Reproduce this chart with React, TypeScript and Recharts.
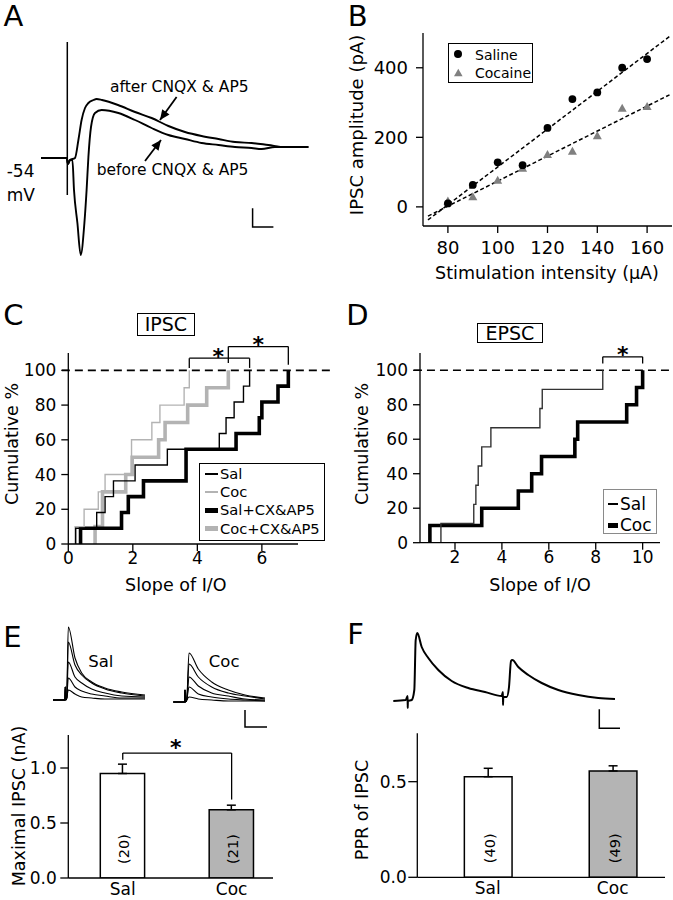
import React from 'react';
import {
  LineChart, Line, XAxis, YAxis, ScatterChart, Scatter, ReferenceLine,
  BarChart, Bar, ErrorBar, LabelList, Cell,
} from 'recharts';

const FONT = '"DejaVu Sans", "Liberation Sans", sans-serif';

// A: membrane potential, before / after CNQX & AP5 (ms, mV)
const aAfterT = [0.5, 13.4, 14, 15, 17.5, 19.2, 20.8, 22.5, 24.2, 26.7, 28.3, 31, 39, 47.5, 55.8, 64.2, 72.5, 80.8, 89.2, 97.5, 105.8, 114.2, 122.5, 134.2];
const aAfterV = [-54, -54, -54.6, -54.2, -54, -52.2, -50.2, -49.0, -48.5, -48.2, -48.1, -48.2, -48.7, -49.4, -50.0, -50.8, -51.4, -51.8, -52.1, -52.4, -52.5, -52.7, -52.9, -52.9];
const aBeforeT = [0.5, 13.4, 14, 15, 16.2, 17, 18.7, 20.35, 22.2, 23.3, 24.2, 25.5, 27.5, 30.8, 39.2, 47.5, 55.8, 64.2, 72.5, 80.8, 89.2, 97.5, 105.8, 110.8, 117.5, 134.2];
const aBeforeV = [-54, -54, -54.6, -54.2, -54.2, -57.2, -60.5, -63.7, -60.5, -57.2, -53.9, -50.9, -49.5, -49.2, -49.5, -50.2, -51.0, -51.7, -52.1, -52.5, -52.7, -52.9, -53.0, -53.1, -52.9, -52.9];
const aStim = { t: 13.65, top: -42.4, bottom: -57.7 };
const aArrowAfter = [{ t: 68.3, v: -47.9 }, { t: 60, v: -50.2 }];
const aArrowBefore = [{ t: 52.5, v: -54.3 }, { t: 60.5, v: -52.2 }];
const aScale = { t: 106.3, v: -60.9, dt: 10.4, dv: 1.87 };

// B: IPSC amplitude vs stimulation intensity
const stimIntensity = [80, 90, 100, 110, 120, 130, 140, 150, 160];
const salineAmp = [10, 63, 128, 120, 227, 310, 329, 400, 425];
const cocaineAmp = [16, 28, 76, 110, 150, 159, 204, 283, 288];

// C: slopes of I/O (IPSC)
const ipscSal = [0.23, 0.88, 1.14, 1.4, 2.07, 3.07, 4.68, 4.89, 5.14, 5.43, 5.62];
const ipscCoc = [0.21, 0.49, 0.93, 1.14, 1.96, 1.96, 2.59, 2.84, 3.59, 3.75];
const ipscSalCx = [0.38, 1.65, 1.86, 2.33, 3.65, 3.65, 5.2, 5.92, 6.0, 6.5, 6.82];
const ipscCocCx = [0.83, 1.06, 1.06, 1.78, 1.98, 2.8, 3.0, 3.7, 4.29, 4.96];

// D: slopes of I/O (EPSC)
const epscSal = [1.4, 2.8, 2.89, 2.99, 3.14, 3.53, 5.62, 5.72, 8.3];
const epscCoc = [0.93, 3.14, 4.7, 5.27, 5.69, 7.11, 7.23, 9.32, 9.74, 10.0];

// E: IPSC traces (ms, nA) and maximal IPSC
const eSalT = [0, 12, 12.3, 12.6, 13.7, 15.3, 22, 28.7, 38.7, 52, 68.7, 92];
const eSalTraces = [
  [0, 0, 0.13, 0, 0.02, 0.73, 0.42, 0.27, 0.18, 0.12, 0.08, 0.05],
  [0, 0, 0.13, 0, 0.02, 0.58, 0.35, 0.25, 0.17, 0.11, 0.07, 0.04],
  [0, 0, 0.13, 0, 0.02, 0.38, 0.23, 0.17, 0.11, 0.07, 0.04, 0.03],
  [0, 0, 0.13, 0, 0.02, 0.22, 0.13, 0.09, 0.06, 0.04, 0.02, 0.02],
  [0, 0, 0.13, 0, 0.02, 0.10, 0.06, 0.03, 0.02, 0.01, 0.01, 0.01],
];
const eCocT = [0.3, 11.7, 12, 12.3, 13.7, 16, 25.3, 38.7, 55.3, 72, 92];
const eCocTraces = [
  [0, 0, 0.12, 0, 0.02, 0.49, 0.33, 0.20, 0.12, 0.07, 0.04],
  [0, 0, 0.12, 0, 0.02, 0.38, 0.25, 0.15, 0.09, 0.06, 0.03],
  [0, 0, 0.12, 0, 0.02, 0.25, 0.16, 0.09, 0.06, 0.03, 0.02],
  [0, 0, 0.12, 0, 0.02, 0.15, 0.08, 0.05, 0.03, 0.02, 0.01],
  [0, 0, 0.12, 0, 0.02, 0.05, 0.03, 0.02, 0.01, 0.01, 0.01],
];
const eScale = { t: 72, v: -0.25, dt: 22, dv: 0.17 };
const groups = ['Sal', 'Coc'];
const maxIpscMean = [0.95, 0.62];
const maxIpscSem = [0.085, 0.042];
const maxIpscN = [20, 21];

// F: paired-pulse trace and PPR
const fT = [3.3, 15.7, 17.6, 17.7, 17.9, 21.7, 24.3, 25.7, 27.3, 31.7, 38.3, 48.3, 61.7, 78.3, 95, 111.7, 112.9, 113, 113.3, 116.7, 119, 121, 122.3, 128.3, 138.3, 151.7, 168.3, 188.3, 208.3, 225];
const fV = [0, 0.01, 0.05, -0.07, 0.0, 0.01, 0.11, 0.61, 0.68, 0.54, 0.43, 0.31, 0.2, 0.13, 0.09, 0.05, 0.09, -0.04, 0.04, 0.04, 0.14, 0.4, 0.41, 0.34, 0.26, 0.18, 0.11, 0.06, 0.03, 0.02];
const fScale = { t: 209.3, v: -0.273, dt: 20.7, dv: 0.19 };
const pprMean = [0.526, 0.556];
const pprSem = [0.044, 0.027];
const pprN = [40, 49];

const zip = (t: number[], v: number[]) => t.map((x, i) => ({ t: x, v: v[i] }));

const cdf = (vals: number[]) => {
  const s = [...vals].sort((a, b) => a - b);
  return [{ x: s[0], y: 0 }, ...s.map((v, i) => ({ x: v, y: ((i + 1) / s.length) * 100 }))];
};

const fitLine = (xs: number[], ys: number[]) => {
  const n = xs.length;
  const mx = xs.reduce((a, b) => a + b, 0) / n;
  const my = ys.reduce((a, b) => a + b, 0) / n;
  let sxy = 0;
  let sxx = 0;
  xs.forEach((x, i) => {
    sxy += (x - mx) * (ys[i] - my);
    sxx += (x - mx) * (x - mx);
  });
  const k = sxy / sxx;
  return (x: number) => my + k * (x - mx);
};

const scaleBar = (s: { t: number; v: number; dt: number; dv: number }) => [
  { t: s.t, v: s.v + s.dv },
  { t: s.t, v: s.v },
  { t: s.t + s.dt, v: s.v },
];

const arrowHead = () => {
  let start: { x: number; y: number } | null = null;
  return (p: any) => {
    if (p.index === 0) {
      start = { x: p.cx, y: p.cy };
      return <g key={`s${p.index}`} />;
    }
    const s = start ?? { x: p.cx - 1, y: p.cy };
    const a = Math.atan2(p.cy - s.y, p.cx - s.x);
    const L = 10;
    const W = 4.5;
    const bx = p.cx - L * Math.cos(a);
    const by = p.cy - L * Math.sin(a);
    const pts = [
      [p.cx, p.cy],
      [bx + W * Math.sin(a), by - W * Math.cos(a)],
      [bx - W * Math.sin(a), by + W * Math.cos(a)],
    ];
    return <polygon key={`h${p.index}`} points={pts.map((q) => q.join(',')).join(' ')} fill="#000" />;
  };
};

const Txt = ({ x, y, size, children, align = 'center', rotate = false, weight = 400 }: {
  x: number; y: number; size: number; children: React.ReactNode; align?: 'left' | 'center'; rotate?: boolean; weight?: number;
}) => (
  <div
    style={{
      position: 'absolute', left: x, top: y, fontSize: size, fontFamily: FONT, fontWeight: weight,
      lineHeight: 1, whiteSpace: 'nowrap', color: '#000',
      transform: `translate(${align === 'center' ? '-50%' : '0'}, -50%)${rotate ? ' rotate(-90deg)' : ''}`,
    }}
  >
    {children}
  </div>
);

const Place = ({ x, y, children }: { x: number; y: number; children: React.ReactNode }) => (
  <div style={{ position: 'absolute', left: x, top: y }}>{children}</div>
);

const axisStyle = { stroke: '#000', strokeWidth: 1.3 };
const tickFont = { fill: '#000', fontSize: 17, fontFamily: FONT };

const PanelA = () => (
  <LineChart width={280} height={232} margin={{ top: 0, right: 0, bottom: 0, left: 0 }}>
    <XAxis type="number" dataKey="t" domain={[0, 140]} hide allowDataOverflow />
    <YAxis type="number" domain={[-64.2, -41]} hide allowDataOverflow />
    <Line data={[{ t: aStim.t, v: aStim.top }, { t: aStim.t, v: aStim.bottom }]} dataKey="v" type="linear" stroke="#000" strokeWidth={1.5} dot={false} isAnimationActive={false} />
    <Line data={zip(aBeforeT, aBeforeV)} dataKey="v" type="monotone" stroke="#000" strokeWidth={1.9} dot={false} isAnimationActive={false} />
    <Line data={zip(aAfterT, aAfterV)} dataKey="v" type="monotone" stroke="#000" strokeWidth={1.9} dot={false} isAnimationActive={false} />
    <Line data={aArrowAfter} dataKey="v" type="linear" stroke="#000" strokeWidth={1.8} dot={arrowHead()} isAnimationActive={false} />
    <Line data={aArrowBefore} dataKey="v" type="linear" stroke="#000" strokeWidth={1.8} dot={arrowHead()} isAnimationActive={false} />
    <Line data={scaleBar(aScale)} dataKey="v" type="linear" stroke="#000" strokeWidth={1.5} dot={false} isAnimationActive={false} />
  </LineChart>
);

const PanelB = () => {
  const sal = stimIntensity.map((x, i) => ({ x, y: salineAmp[i] }));
  const coc = stimIntensity.map((x, i) => ({ x, y: cocaineAmp[i] }));
  const fs = fitLine(stimIntensity, salineAmp);
  const fc = fitLine(stimIntensity, cocaineAmp);
  const x0 = 72;
  const x1 = 169;
  return (
    <ScatterChart width={333} height={300} margin={{ top: 33, right: 1, bottom: 44, left: 23 }}>
      <XAxis type="number" dataKey="x" domain={[70, 170]} ticks={[80, 100, 120, 140, 160]} allowDataOverflow
        height={30} axisLine={axisStyle} tickLine={axisStyle} tickSize={7} tickMargin={8} tick={{ ...tickFont, fontSize: 18 }} />
      <YAxis type="number" dataKey="y" domain={[-55, 500]} ticks={[0, 200, 400]} allowDataOverflow
        width={60} axisLine={axisStyle} tickLine={axisStyle} tickSize={7} tickMargin={8} tick={{ ...tickFont, fontSize: 18 }} />
      <ReferenceLine segment={[{ x: x0, y: fs(x0) }, { x: x1, y: fs(x1) }]} stroke="#000" strokeWidth={1.5} strokeDasharray="4 2.5" ifOverflow="visible" />
      <ReferenceLine segment={[{ x: x0, y: fc(x0) }, { x: x1, y: fc(x1) }]} stroke="#000" strokeWidth={1.5} strokeDasharray="4 2.5" ifOverflow="visible" />
      <Scatter data={coc} isAnimationActive={false}
        shape={(p: any) => <polygon points={`${p.cx},${p.cy - 4.8} ${p.cx - 4.5},${p.cy + 3.2} ${p.cx + 4.5},${p.cy + 3.2}`} fill="#808080" />} />
      <Scatter data={sal} isAnimationActive={false}
        shape={(p: any) => <circle cx={p.cx} cy={p.cy} r={3.9} fill="#000" />} />
    </ScatterChart>
  );
};

const CdfPanel = ({ series, domainX, ticksX, size, margin, brackets, dashTo }: {
  series: { vals: number[]; color: string; width: number }[];
  domainX: [number, number]; ticksX: number[]; size: [number, number];
  margin: { top: number; right: number; bottom: number; left: number };
  brackets: { xa: number; xb: number; top: number; ya: number; yb: number }[];
  dashTo: [number, number];
}) => (
  <LineChart width={size[0]} height={size[1]} margin={margin}>
    <XAxis type="number" dataKey="x" domain={domainX} ticks={ticksX} allowDataOverflow height={30}
      axisLine={axisStyle} tickLine={axisStyle} tickSize={7} tickMargin={1} tick={tickFont} />
    <YAxis type="number" domain={[0, 110]} ticks={[0, 20, 40, 60, 80, 100]} allowDataOverflow width={60}
      axisLine={axisStyle} tickLine={axisStyle} tickSize={7} tickMargin={5} tick={tickFont} />
    <ReferenceLine segment={[{ x: dashTo[0], y: 100 }, { x: dashTo[1], y: 100 }]} stroke="#000" strokeWidth={1.6} strokeDasharray="8 5" ifOverflow="visible" />
    {series.map((s, i) => (
      <Line key={i} data={cdf(s.vals)} dataKey="y" type="stepAfter" stroke={s.color} strokeWidth={s.width} dot={false} isAnimationActive={false} />
    ))}
    {brackets.map((b, i) => (
      <React.Fragment key={`b${i}`}>
        <ReferenceLine segment={[{ x: b.xa, y: b.ya }, { x: b.xa, y: b.top }]} stroke="#000" strokeWidth={1.3} ifOverflow="visible" />
        <ReferenceLine segment={[{ x: b.xa, y: b.top }, { x: b.xb, y: b.top }]} stroke="#000" strokeWidth={1.3} ifOverflow="visible" />
        <ReferenceLine segment={[{ x: b.xb, y: b.top }, { x: b.xb, y: b.yb }]} stroke="#000" strokeWidth={1.3} ifOverflow="visible" />
      </React.Fragment>
    ))}
  </LineChart>
);

const TraceChart = ({ data, w, h, domainX, domainY, width }: {
  data: { t: number; v: number }[][]; w: number; h: number; domainX: [number, number]; domainY: [number, number]; width: number;
}) => (
  <LineChart width={w} height={h} margin={{ top: 0, right: 0, bottom: 0, left: 0 }}>
    <XAxis type="number" dataKey="t" domain={domainX} hide allowDataOverflow />
    <YAxis type="number" domain={domainY} hide allowDataOverflow />
    {data.map((d, i) => (
      <Line key={i} data={d} dataKey="v" type={d.length === 3 ? 'linear' : 'monotone'} stroke="#000"
        strokeWidth={d.length === 3 ? 1.5 : width} dot={false} isAnimationActive={false} />
    ))}
  </LineChart>
);

const BarPanel = ({ means, sems, ns, size, margin, domainX, domainY, ticksY, barSize, tickSizeY, tickMarginY, bracket }: {
  means: number[]; sems: number[]; ns: number[]; size: [number, number];
  margin: { top: number; right: number; bottom: number; left: number };
  domainX: [number, number]; domainY: [number, number]; ticksY: number[]; barSize: number;
  tickSizeY: number; tickMarginY: number;
  bracket?: { top: number; ya: number; yb: number };
}) => {
  const rows = groups.map((g, i) => ({ pos: i + 0.5, name: g, mean: means[i], err: [0, sems[i]], n: ns[i] }));
  return (
    <BarChart width={size[0]} height={size[1]} data={rows} margin={margin}>
      <XAxis type="number" dataKey="pos" domain={domainX} ticks={rows.map((r) => r.pos)} allowDataOverflow height={22}
        tickFormatter={(v: number) => groups[Math.round(v - 0.5)]} axisLine={axisStyle} tickLine={false}
        tickSize={6} tickMargin={-1} tick={{ ...tickFont, fontSize: 17 }} />
      <YAxis type="number" domain={domainY} ticks={ticksY} allowDataOverflow width={60}
        tickFormatter={(v: number) => v.toFixed(1)} axisLine={axisStyle} tickLine={axisStyle}
        tickSize={tickSizeY} tickMargin={tickMarginY} tick={tickFont} />
      <Bar dataKey="mean" barSize={barSize} stroke="#000" strokeWidth={1.5} isAnimationActive={false}>
        {rows.map((r, i) => <Cell key={r.name} fill={i === 0 ? '#ffffff' : '#b4b4b4'} />)}
        <ErrorBar dataKey="err" direction="y" width={4.5} stroke="#000" strokeWidth={1.5} />
        <LabelList dataKey="n" content={(p: any) => {
          const vb = p.viewBox ?? p;
          const cx = vb.x + vb.width / 2 + 2;
          const cy = vb.y + vb.height - 29;
          return (
            <text x={cx} y={cy} transform={`rotate(-90 ${cx} ${cy})`} textAnchor="middle" dominantBaseline="central"
              fontSize={14.5} fontFamily={FONT} fill="#000">({p.value})</text>
          );
        }} />
      </Bar>
      {bracket && (
        <>
          <ReferenceLine segment={[{ x: rows[0].pos, y: bracket.ya }, { x: rows[0].pos, y: bracket.top }]} stroke="#000" strokeWidth={1.3} ifOverflow="visible" />
          <ReferenceLine segment={[{ x: rows[0].pos, y: bracket.top }, { x: rows[1].pos, y: bracket.top }]} stroke="#000" strokeWidth={1.3} ifOverflow="visible" />
          <ReferenceLine segment={[{ x: rows[1].pos, y: bracket.top }, { x: rows[1].pos, y: bracket.yb }]} stroke="#000" strokeWidth={1.3} ifOverflow="visible" />
        </>
      )}
    </BarChart>
  );
};

const LegendLine = ({ x, y, w, h, color }: { x: number; y: number; w: number; h: number; color: string }) => (
  <div style={{ position: 'absolute', left: x, top: y - h / 2, width: w, height: h, background: color }} />
);

const TitleBox = ({ x, y, w, h, text }: { x: number; y: number; w: number; h: number; text: string }) => (
  <div style={{
    position: 'absolute', left: x, top: y, width: w, height: h, boxSizing: 'border-box', border: '1.5px solid #000',
    display: 'flex', alignItems: 'center', justifyContent: 'center', fontFamily: FONT, fontSize: 19, lineHeight: 1,
  }}>{text}</div>
);

export default function App() {
  const cBrackets = [
    { xa: Math.max(...ipscCoc), xb: Math.max(...ipscSal), top: 107, ya: 101.4, yb: 101.4 },
    { xa: Math.max(...ipscCocCx), xb: Math.max(...ipscSalCx), top: 113.7, ya: 104.2, yb: 103.2 },
  ];
  const dBrackets = [{ xa: Math.max(...epscSal), xb: Math.max(...epscCoc), top: 107.8, ya: 103.9, yb: 103.9 }];
  const eSalData = eSalTraces.map((v) => zip(eSalT, v));
  const eCocData = [...eCocTraces.map((v) => zip(eCocT, v)), scaleBar(eScale)];
  return (
    <div style={{ position: 'absolute', left: 0, top: 0, width: 673, height: 900, background: '#fff', overflow: 'hidden', fontFamily: FONT }}>
      {/* A */}
      <Place x={40} y={28}><PanelA /></Place>
      <Txt x={13.3} y={16} size={29}>A</Txt>
      <Txt x={110} y={88.3} size={15.5} align="left">after CNQX &amp; AP5</Txt>
      <Txt x={96.7} y={170.7} size={15.5} align="left">before CNQX &amp; AP5</Txt>
      <Txt x={6.7} y={170.7} size={17} align="left">-54</Txt>
      <Txt x={6.7} y={195} size={17} align="left">mV</Txt>

      {/* B */}
      <Place x={340} y={0}><PanelB /></Place>
      <Txt x={357.8} y={16} size={29}>B</Txt>
      <Txt x={356.7} y={125} size={18} rotate>IPSC amplitude (pA)</Txt>
      <Txt x={547} y={274} size={17.5}>Stimulation intensity (µA)</Txt>
      <div style={{ position: 'absolute', left: 448, top: 43, width: 85, height: 40, boxSizing: 'border-box', border: '1.3px solid #000', background: '#fff' }} />
      <div style={{ position: 'absolute', left: 458.3 - 3.9, top: 54.3 - 3.9, width: 7.8, height: 7.8, borderRadius: '50%', background: '#000' }} />
      <svg style={{ position: 'absolute', left: 453, top: 68 }} width={11} height={10}>
        <polygon points="5.3,0.8 1,8.3 9.6,8.3" fill="#808080" />
      </svg>
      <Txt x={475} y={55} size={14} align="left">Saline</Txt>
      <Txt x={475} y={73.3} size={14} align="left">Cocaine</Txt>

      {/* C */}
      <Place x={0} y={300}>
        <CdfPanel
          series={[
            { vals: ipscCocCx, color: '#b3b3b3', width: 3.6 },
            { vals: ipscSalCx, color: '#000', width: 3.6 },
            { vals: ipscCoc, color: '#b3b3b3', width: 1.4 },
            { vals: ipscSal, color: '#000', width: 1.4 },
          ]}
          domainX={[0, 7.12]} ticksX={[0, 2, 4, 6]} size={[340, 300]}
          margin={{ top: 53, right: 42, bottom: 26, left: 8.3 }}
          brackets={cBrackets} dashTo={[-0.2, 8.2]}
        />
      </Place>
      <Txt x={13.3} y={314.5} size={29}>C</Txt>
      <TitleBox x={136.7} y={313.3} w={58.3} h={22.7} text="IPSC" />
      <Txt x={13} y={444} size={17.5} rotate>Cumulative %</Txt>
      <Txt x={175.8} y={586.3} size={17.5}>Slope of I/O</Txt>
      <Txt x={218.3} y={357} size={22} weight={700}>*</Txt>
      <Txt x={258.3} y={344.5} size={22} weight={700}>*</Txt>
      <div style={{ position: 'absolute', left: 199.3, top: 462.7, width: 125.7, height: 78, boxSizing: 'border-box', border: '1.5px solid #000', background: '#fff' }} />
      <LegendLine x={205} y={474} w={13.3} h={2} color="#000" />
      <LegendLine x={205} y={492.3} w={13.3} h={2} color="#b3b3b3" />
      <LegendLine x={205} y={510} w={13.3} h={5} color="#000" />
      <LegendLine x={205} y={528.7} w={13.3} h={5} color="#b3b3b3" />
      <Txt x={220} y={474} size={14.7} align="left">Sal</Txt>
      <Txt x={220} y={492.3} size={14.7} align="left">Coc</Txt>
      <Txt x={220} y={510} size={14.7} align="left">Sal+CX&amp;AP5</Txt>
      <Txt x={220} y={528.7} size={14.7} align="left">Coc+CX&amp;AP5</Txt>

      {/* D */}
      <Place x={340} y={300}>
        <CdfPanel
          series={[
            { vals: epscCoc, color: '#000', width: 3.6 },
            { vals: epscSal, color: '#333', width: 1.4 },
          ]}
          domainX={[0.508, 10.74]} ticksX={[2, 4, 6, 8, 10]} size={[333, 300]}
          margin={{ top: 53, right: 13, bottom: 27.3, left: 20 }}
          brackets={dBrackets} dashTo={[0.25, 11.2]}
        />
      </Place>
      <Txt x={357.3} y={314.5} size={29}>D</Txt>
      <TitleBox x={477.3} y={323.3} w={65.4} h={19.4} text="EPSC" />
      <Txt x={363} y={444} size={17.5} rotate>Cumulative %</Txt>
      <Txt x={540} y={585.8} size={17.5}>Slope of I/O</Txt>
      <Txt x={622.7} y={354.5} size={22} weight={700}>*</Txt>
      <div style={{ position: 'absolute', left: 603.3, top: 489.3, width: 53.4, height: 44.7, boxSizing: 'border-box', border: '1px solid #8a8a8a', background: '#fff' }} />
      <LegendLine x={608} y={504} w={10} h={1.6} color="#000" />
      <LegendLine x={608} y={525} w={10} h={5} color="#000" />
      <Txt x={620} y={504} size={17} align="left">Sal</Txt>
      <Txt x={620} y={525} size={17} align="left">Coc</Txt>

      {/* E */}
      <Place x={53} y={620}>
        <TraceChart data={eSalData} w={100} h={85} domainX={[0, 100]} domainY={[-0.05, 0.8]} width={1.1} />
      </Place>
      <Place x={173} y={622}>
        <TraceChart data={eCocData} w={100} h={110} domainX={[0, 100]} domainY={[-0.3, 0.8]} width={1.1} />
      </Place>
      <Txt x={12.5} y={637} size={29}>E</Txt>
      <Txt x={100.8} y={661.7} size={16.5}>Sal</Txt>
      <Txt x={224.2} y={661.7} size={16.5}>Coc</Txt>
      <Place x={0} y={700}>
        <BarPanel means={maxIpscMean} sems={maxIpscSem} ns={maxIpscN} size={[340, 200]}
          margin={{ top: 35, right: 67, bottom: 0, left: 8.3 }} domainX={[0, 1.88]} domainY={[0, 1.3]}
          ticksY={[0, 0.5, 1.0]} barSize={44.3} tickSizeY={8} tickMarginY={3.5}
          bracket={{ top: 1.136, ya: 1.076, yb: 0.713 }} />
      </Place>
      <Txt x={20} y={805.8} size={17.5} rotate>Maximal IPSC (nA)</Txt>
      <Txt x={175.7} y={748} size={22} weight={700}>*</Txt>

      {/* F */}
      <Place x={390} y={625}>
        <TraceChart data={[zip(fT, fV), scaleBar(fScale)]} w={240} h={110} domainX={[0, 240]} domainY={[-0.34, 0.76]} width={2} />
      </Place>
      <Txt x={355.7} y={634} size={29}>F</Txt>
      <Place x={340} y={700}>
        <BarPanel means={pprMean} sems={pprSem} ns={pprN} size={[333, 200]}
          margin={{ top: 33.3, right: 8, bottom: 0.7, left: 17.3 }} domainX={[-0.0645, 1.919]} domainY={[0, 0.753]}
          ticksY={[0, 0.5]} barSize={47.7} tickSizeY={9} tickMarginY={1.5} />
      </Place>
      <Txt x={363} y={810} size={17.5} rotate>PPR of IPSC</Txt>
    </div>
  );
}
